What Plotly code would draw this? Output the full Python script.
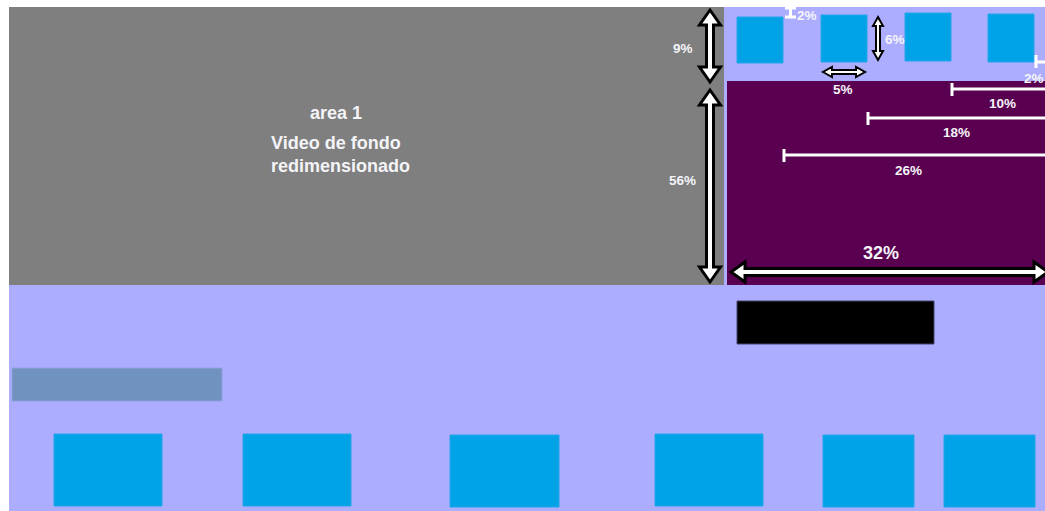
import plotly.graph_objects as go

# ---- data ----
pct_labels = ["9%", "56%", "32%", "5%", "6%", "2%", "2%", "10%", "18%", "26%"]
title_lines = ["area 1", "Video de fondo<br>redimensionado"]
top_squares = [(737, 17, 783, 63), (821, 15, 867, 62), (905, 13, 951, 61), (988, 14, 1034, 62)]
bottom_squares = [(54, 434, 162, 506), (243, 434, 351, 506), (450, 435, 559, 507),
                  (655, 434, 763, 506), (823, 435, 914, 507), (944, 435, 1035, 507)]
scale_lines = [(952, 89), (868, 118), (784, 155)]  # start x, y of 10%,18%,26% bars

W, H = 1045, 511
LAV = "#ADADFF"
GRAY = "#7F7F7F"
PURPLE = "#5A0050"
BLUE = "#00A2E8"
STEEL = "#7092BE"
WHITE = "#F4F4F8"

shapes = []

def rect(x0, y0, x1, y1, fill, line=None, lw=0):
    shapes.append(dict(type="rect", xref="x", yref="y", x0=x0, y0=y0, x1=x1, y1=y1,
                       fillcolor=fill, line=dict(color=line or fill, width=lw), layer="below"))

def line(x0, y0, x1, y1, color="white", w=3):
    shapes.append(dict(type="line", xref="x", yref="y", x0=x0, y0=y0, x1=x1, y1=y1,
                       line=dict(color=color, width=w)))

def darrow(a, b, c, vertical, sh, hh, hl, lw):
    # double arrow along axis from a to b at cross coordinate c
    pts = [(a, 0), (a + hl, hh), (a + hl, sh), (b - hl, sh), (b - hl, hh), (b, 0),
           (b - hl, -hh), (b - hl, -sh), (a + hl, -sh), (a + hl, -hh)]
    if vertical:
        pts = [(c + d, p) for p, d in pts]
    else:
        pts = [(p, c + d) for p, d in pts]
    path = "M " + " L ".join(f"{x},{y}" for x, y in pts) + " Z"
    shapes.append(dict(type="path", xref="x", yref="y", path=path, fillcolor="white",
                       line=dict(color="black", width=lw)))

# background regions
rect(9, 7, W, H, LAV)
rect(9, 7, 724, 285, GRAY)
rect(727, 81, W, 285, PURPLE)
for s in top_squares:
    rect(*s, BLUE, "#22A8E8", 1)
for s in bottom_squares:
    rect(*s, BLUE, "#22A8E8", 1)
rect(12, 368, 222, 401, STEEL, "#8FA0E0", 1)
rect(737, 301, 934, 344, "black", "#44446A", 1)

# arrows
darrow(10, 82, 710, True, 3.5, 10.5, 15, 3)
darrow(90, 282, 710, True, 3.5, 10.5, 15, 3)
darrow(731, 1048, 272, False, 3.5, 10, 14, 3)
darrow(823, 865, 72, False, 2, 5, 9, 2)
darrow(17, 60, 878, True, 2, 5, 9, 2)

# white dimension markers
line(785, 8, 796, 8)
line(790.5, 8, 790.5, 17)
line(785, 17, 796, 17)
line(1036, 55, 1036, 68)
line(1036, 62, W, 62)
for x, y in scale_lines:
    line(x, y - 6, x, y + 7)
    line(x, y, W, y)

ann = []
def txt(x, y, s, size=12, anchor="center", align="center"):
    ann.append(dict(x=x, y=y, xref="x", yref="y", text=s, showarrow=False,
                    font=dict(family="Liberation Sans, Arial", size=size, color=WHITE),
                    xanchor=anchor, yanchor="middle", align=align))

txt(336, 113, "<b>" + title_lines[0] + "</b>", 18)
txt(269, 154, "<b>" + title_lines[1] + "</b>", 18, "left", "left")
pos = [(683, 48, 13.5), (682, 180, 13.5), (881, 253, 18), (843, 89, 13.5), (895, 39, 13.5),
       (807, 15, 13.5), (1034, 78, 13.5), (1002, 103, 13.5), (956, 132, 13.5), (908, 170, 13.5)]
for (x, y, sz), s in zip(pos, pct_labels):
    txt(x, y, "<b>" + s + "</b>", sz)

fig = go.Figure()
fig.add_trace(go.Scatter(x=[0, W], y=[0, H], mode="markers", marker=dict(opacity=0),
                         hoverinfo="skip", showlegend=False))
fig.update_layout(width=W, height=H, margin=dict(l=0, r=0, t=0, b=0),
                  paper_bgcolor="white", plot_bgcolor="white",
                  xaxis=dict(range=[0, W], visible=False, fixedrange=True),
                  yaxis=dict(range=[H, 0], visible=False, fixedrange=True),
                  shapes=shapes, annotations=ann, showlegend=False)
fig.write_html("out.html", config=dict(displayModeBar=False),
               post_script="document.body.style.margin='0';document.body.style.overflow='hidden';")
